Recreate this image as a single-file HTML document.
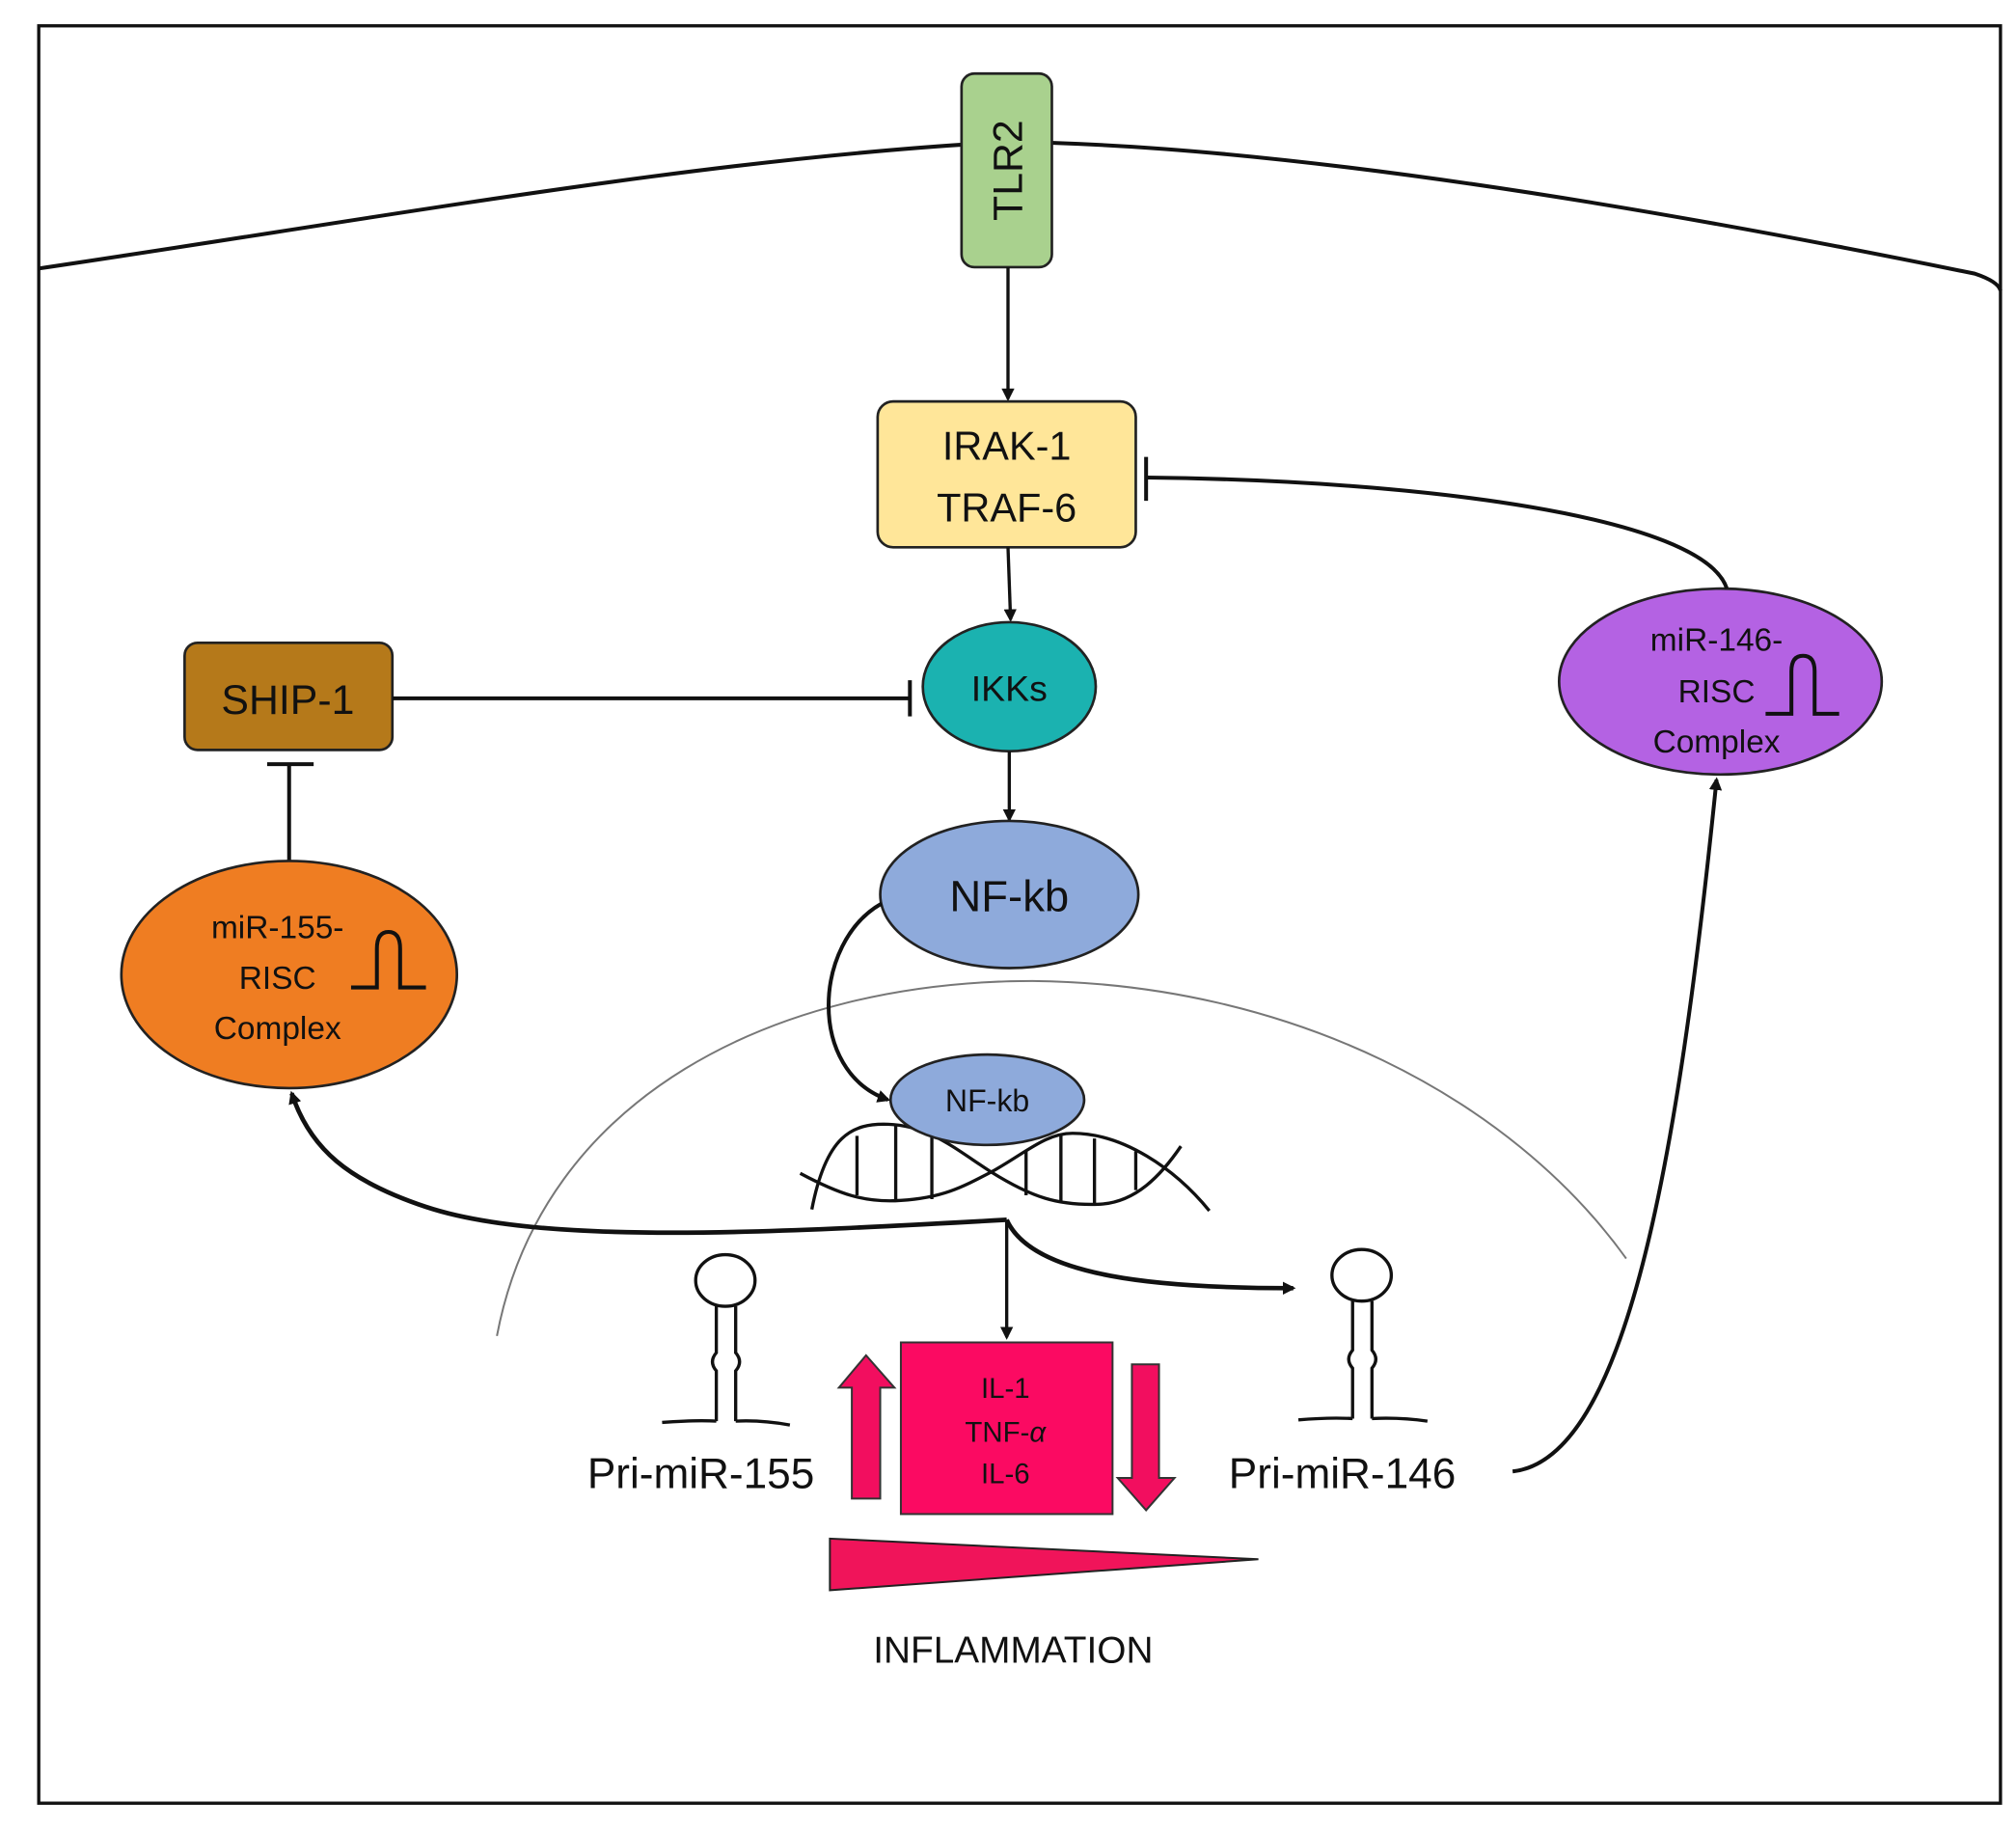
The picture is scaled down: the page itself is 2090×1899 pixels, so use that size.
<!DOCTYPE html>
<html><head><meta charset="utf-8"><style>html,body{margin:0;padding:0;background:#fff}svg{display:block}text{font-family:"Liberation Sans",sans-serif;fill:#111}</style></head><body>
<svg width="2090" height="1899" viewBox="0 0 1562 1419.3" xmlns="http://www.w3.org/2000/svg">
<defs><marker id="a" markerWidth="10" markerHeight="10" refX="8" refY="5" orient="auto" markerUnits="userSpaceOnUse"><path d="M0,0 L10,5 L0,10 z" fill="#111"/></marker></defs>
<rect x="0" y="0" width="1562" height="1420" fill="#fff"/>
<rect x="30" y="20" width="1520" height="1377" fill="none" stroke="#111" stroke-width="2.5"/>
<path d="M30,208 C300,168 550,122 780,110 C1000,112 1300,165 1530,212 Q1548,218 1550,225" fill="none" stroke="#111" stroke-width="3"/>
<path d="M385,1035 C420,850 600,760 800,760 C1000,762 1170,850 1260,975" fill="none" stroke="#777" stroke-width="1.5"/>
<rect x="745" y="57" width="70" height="150" rx="10" fill="#a9d18e" stroke="#222" stroke-width="2"/>
<text x="0" y="0" transform="translate(792,132) rotate(-90)" font-size="32" text-anchor="middle">TLR2</text>
<line x1="781" y1="207" x2="781" y2="309" stroke="#111" stroke-width="2.5" marker-end="url(#a)"/>
<rect x="680" y="311" width="200" height="113" rx="12" fill="#ffe699" stroke="#222" stroke-width="2"/>
<text x="780" y="356" font-size="31" text-anchor="middle">IRAK-1</text>
<text x="780" y="404" font-size="31" text-anchor="middle">TRAF-6</text>
<line x1="781" y1="424" x2="783" y2="480" stroke="#111" stroke-width="2.5" marker-end="url(#a)"/>
<ellipse cx="782" cy="532" rx="67" ry="50" fill="#1bb2b0" stroke="#222" stroke-width="2"/>
<text x="782" y="543" font-size="28" text-anchor="middle">IKKs</text>
<line x1="782" y1="582" x2="782" y2="635" stroke="#111" stroke-width="2.5" marker-end="url(#a)"/>
<ellipse cx="782" cy="693" rx="100" ry="57" fill="#8eaadb" stroke="#222" stroke-width="2"/>
<text x="782" y="706" font-size="34" text-anchor="middle">NF-kb</text>
<rect x="143" y="498" width="161" height="83" rx="10" fill="#b5791a" stroke="#222" stroke-width="2"/>
<text x="223" y="553" font-size="32" text-anchor="middle">SHIP-1</text>
<line x1="304" y1="541" x2="705" y2="541" stroke="#111" stroke-width="3"/>
<line x1="705" y1="527" x2="705" y2="555" stroke="#111" stroke-width="3"/>
<line x1="224" y1="668" x2="224" y2="592" stroke="#111" stroke-width="3"/>
<line x1="207" y1="592" x2="243" y2="592" stroke="#111" stroke-width="3"/>
<ellipse cx="224" cy="755" rx="130" ry="88" fill="#ef7d22" stroke="#222" stroke-width="2"/>
<text x="215" y="727" font-size="25" text-anchor="middle">miR-155-</text>
<text x="215" y="766" font-size="25" text-anchor="middle">RISC</text>
<text x="215" y="805" font-size="25" text-anchor="middle">Complex</text>
<path d="M272,765 H292 V735 Q292,722 301,722 Q310,722 310,735 V765 H330" fill="none" stroke="#111" stroke-width="3"/>
<ellipse cx="1333" cy="528" rx="125" ry="72" fill="#b462e3" stroke="#222" stroke-width="2"/>
<text x="1330" y="504" font-size="25" text-anchor="middle">miR-146-</text>
<text x="1330" y="544" font-size="25" text-anchor="middle">RISC</text>
<text x="1330" y="583" font-size="25" text-anchor="middle">Complex</text>
<path d="M1368,553 H1388 V520 Q1388,508 1397,508 Q1406,508 1406,520 V553 H1425" fill="none" stroke="#111" stroke-width="3"/>
<path d="M1338,456 C1320,400 1100,372 888,370" fill="none" stroke="#111" stroke-width="3"/>
<line x1="888" y1="354" x2="888" y2="388" stroke="#111" stroke-width="3"/>
<path d="M683,700 C630,730 625,830 688,852" fill="none" stroke="#111" stroke-width="3" marker-end="url(#a)"/>
<g fill="none" stroke="#111" stroke-width="2.5">
<path d="M629,937 C640,880 660,870 688,871 C720,872 740,890 768,908 C800,928 820,934 851,933 C880,932 900,910 915,888"/>
<path d="M620,909 C650,925 670,932 698,930 C730,928 745,920 768,908 C795,893 810,878 831,878 C870,878 910,905 937,938"/>
<path d="M664,880V926 M694,872V931 M722,878V929 M795,892V926 M822,880V932 M848,882V933 M880,892V922"/>
</g>
<ellipse cx="765" cy="852" rx="75" ry="35" fill="#8eaadb" stroke="#222" stroke-width="2"/>
<text x="765" y="861" font-size="24" text-anchor="middle">NF-kb</text>
<path d="M780,945 C600,955 420,965 330,935 C270,915 240,890 226,847" fill="none" stroke="#111" stroke-width="3.5" marker-end="url(#a)"/>
<line x1="780" y1="945" x2="780" y2="1036" stroke="#111" stroke-width="2.5" marker-end="url(#a)"/>
<path d="M780,945 C800,990 900,998 1002,998" fill="none" stroke="#111" stroke-width="3.5" marker-end="url(#a)"/>
<g fill="none" stroke="#111" stroke-width="2.5">
<ellipse cx="562" cy="992" rx="23" ry="20"/>
<path d="M555,1012 V1048 Q549,1055 555,1062 V1101 M570,1012 V1048 Q576,1055 570,1062 V1101 M513,1102 Q540,1100 555,1101 M570,1101 Q590,1100 612,1104"/>
<ellipse cx="1055" cy="988" rx="23" ry="20"/>
<path d="M1048,1008 V1046 Q1042,1053 1048,1060 V1099 M1063,1008 V1046 Q1069,1053 1063,1060 V1099 M1006,1100 Q1030,1098 1048,1099 M1063,1099 Q1085,1098 1106,1101"/>
</g>
<text x="543" y="1153" font-size="33" text-anchor="middle">Pri-miR-155</text>
<text x="1040" y="1153" font-size="33" text-anchor="middle">Pri-miR-146</text>
<path d="M1172,1140 C1260,1130 1300,900 1330,604" fill="none" stroke="#111" stroke-width="3" marker-end="url(#a)"/>
<rect x="698" y="1040" width="164" height="133" fill="#fb0a62" stroke="#333" stroke-width="1.5"/>
<text x="779" y="1083" font-size="22" text-anchor="middle">IL-1</text>
<text x="779" y="1117" font-size="22" text-anchor="middle">TNF-<tspan font-style="italic">α</tspan></text>
<text x="779" y="1149" font-size="22" text-anchor="middle">IL-6</text>
<path d="M660,1161 V1075 H650 L671,1050 L693,1075 H682 V1161 Z" fill="#f20e5f" stroke="#333" stroke-width="1.5"/>
<path d="M877,1057 V1145 H866 L888,1170 L910,1145 H898 V1057 Z" fill="#f20e5f" stroke="#333" stroke-width="1.5"/>
<polygon points="643,1192 643,1232 975,1208" fill="#f0145a" stroke="#222" stroke-width="1.5"/>
<text x="785" y="1288" font-size="29" text-anchor="middle">INFLAMMATION</text>
</svg>
</body></html>
